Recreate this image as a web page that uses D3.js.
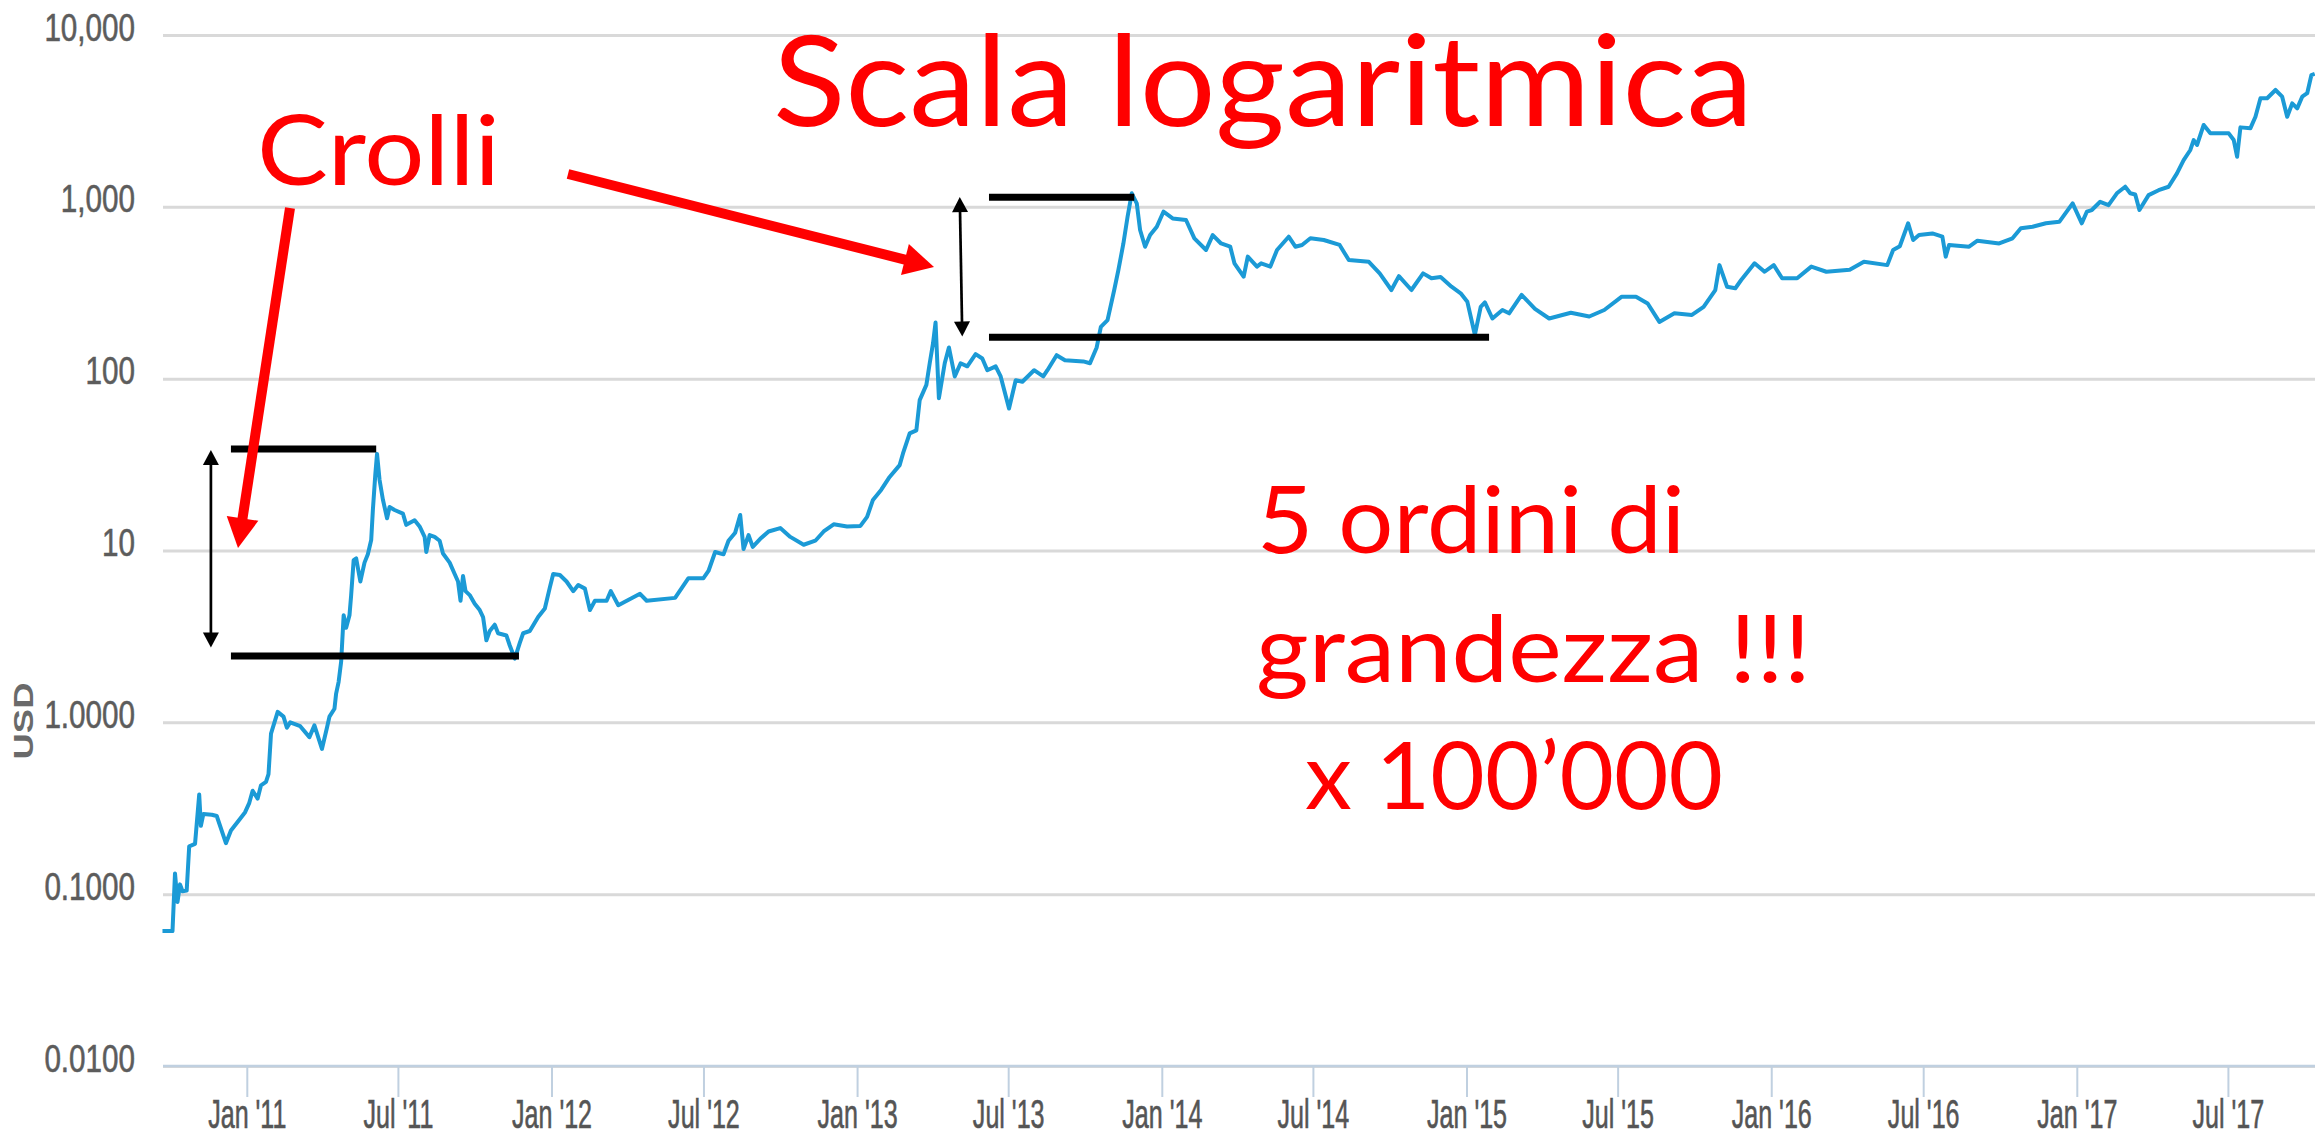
<!DOCTYPE html>
<html><head><meta charset="utf-8">
<script src="https://cdnjs.cloudflare.com/ajax/libs/d3/7.8.5/d3.min.js"></script>
<style>html,body{margin:0;padding:0;background:#fff;overflow:hidden}</style>
</head><body>
<svg id="chart" width="2315" height="1137" xmlns="http://www.w3.org/2000/svg"></svg>
<script>
// ---------- DATA ----------
const prices2010 = [["2010-09-22",0.061],["2010-10-04",0.061],["2010-10-07",0.132],["2010-10-10",0.09],["2010-10-13",0.114],["2010-10-16",0.104],["2010-10-21",0.105],["2010-10-24",0.19],["2010-10-31",0.196],["2010-11-05",0.38],["2010-11-07",0.25],["2010-11-10",0.293],["2010-11-20",0.29],["2010-11-26",0.285],["2010-12-07",0.198],["2010-12-13",0.235],["2010-12-24",0.275],["2010-12-30",0.30]];
const prices2011 = [["2011-01-04",0.34],["2011-01-08",0.40],["2011-01-14",0.36],["2011-01-18",0.43],["2011-01-24",0.45],["2011-01-27",0.50],["2011-01-30",0.86],["2011-02-07",1.15],["2011-02-14",1.08],["2011-02-18",0.93],["2011-02-22",1.0],["2011-03-06",0.95],["2011-03-17",0.82],["2011-03-23",0.96],["2011-04-01",0.70],["2011-04-07",0.93],["2011-04-10",1.08],["2011-04-16",1.2],["2011-04-18",1.47],["2011-04-21",1.72],["2011-04-24",2.25],["2011-04-26",3.4],["2011-04-27",4.2],["2011-04-30",3.55],["2011-05-04",4.2],["2011-05-06",5.5],["2011-05-09",8.8],["2011-05-12",9.0],["2011-05-17",6.6],["2011-05-22",8.5],["2011-05-26",9.5],["2011-05-30",11.5],["2011-06-01",17.2],["2011-06-04",28],["2011-06-06",36.5],["2011-06-09",25.8],["2011-06-13",19.8],["2011-06-18",15.4],["2011-06-21",17.9],["2011-06-27",17.2],["2011-07-07",16.4],["2011-07-11",14.1],["2011-07-21",15.0],["2011-07-27",13.8],["2011-08-02",12.0],["2011-08-04",9.8],["2011-08-08",12.3],["2011-08-14",12.0],["2011-08-20",11.4],["2011-08-24",9.6],["2011-09-01",8.5],["2011-09-07",7.3],["2011-09-11",6.6],["2011-09-14",5.1],["2011-09-17",7.1],["2011-09-20",5.8],["2011-09-25",5.5],["2011-10-01",4.9],["2011-10-07",4.5],["2011-10-11",4.1],["2011-10-15",3.0],["2011-10-19",3.4],["2011-10-25",3.7],["2011-10-29",3.3],["2011-11-08",3.2],["2011-11-12",2.8],["2011-11-18",2.35],["2011-11-24",2.9],["2011-11-28",3.3],["2011-12-06",3.4],["2011-12-16",4.1],["2011-12-24",4.6],["2011-12-30",6.1]];
const prices2012 = [["2012-01-03",7.3],["2012-01-11",7.2],["2012-01-19",6.6],["2012-01-27",5.8],["2012-02-02",6.3],["2012-02-10",6.0],["2012-02-16",4.5],["2012-02-22",5.1],["2012-03-07",5.1],["2012-03-12",5.8],["2012-03-21",4.8],["2012-04-16",5.6],["2012-04-24",5.1],["2012-05-28",5.3],["2012-06-13",6.9],["2012-07-01",6.9],["2012-07-07",7.6],["2012-07-15",9.8],["2012-07-25",9.5],["2012-07-31",11.4],["2012-08-08",12.7],["2012-08-14",16.1],["2012-08-18",10.2],["2012-08-24",12.3],["2012-08-29",10.5],["2012-09-07",11.7],["2012-09-17",12.9],["2012-10-01",13.5],["2012-10-13",12.0],["2012-10-29",10.8],["2012-11-12",11.4],["2012-11-22",12.9],["2012-12-04",14.2],["2012-12-20",13.8]];
const prices2013 = [["2013-01-05",13.9],["2013-01-13",15.7],["2013-01-20",19.7],["2013-01-30",22.6],["2013-02-09",26.8],["2013-02-21",31.4],["2013-02-25",36.7],["2013-03-05",48],["2013-03-13",50],["2013-03-17",75],["2013-03-25",92],["2013-03-29",123],["2013-04-02",161],["2013-04-05",212],["2013-04-09",77],["2013-04-16",123],["2013-04-21",152],["2013-04-28",103],["2013-05-05",123],["2013-05-13",118],["2013-05-23",139],["2013-05-31",131],["2013-06-06",112],["2013-06-16",118],["2013-06-22",103],["2013-07-02",67],["2013-07-10",98],["2013-07-18",96],["2013-08-01",112],["2013-08-12",103],["2013-08-17",112],["2013-08-28",137],["2013-09-07",128],["2013-09-29",126],["2013-10-07",123],["2013-10-15",152],["2013-10-20",200],["2013-10-28",219],["2013-11-05",328],["2013-11-10",429],["2013-11-16",612],["2013-11-21",875],["2013-11-26",1199],["2013-12-02",1048],["2013-12-06",733],["2013-12-12",586],["2013-12-18",685],["2013-12-26",766]];
const prices2014 = [["2014-01-03",937],["2014-01-14",856],["2014-01-30",838],["2014-02-09",656],["2014-02-23",561],["2014-03-03",685],["2014-03-13",612],["2014-03-24",586],["2014-03-29",469],["2014-04-09",392],["2014-04-14",513],["2014-04-25",449],["2014-04-30",469],["2014-05-11",449],["2014-05-19",561],["2014-06-02",670],["2014-06-10",586],["2014-06-18",600],["2014-06-28",656],["2014-07-14",641],["2014-08-02",600],["2014-08-13",490],["2014-09-06",479],["2014-09-19",410],["2014-10-03",328],["2014-10-12",395],["2014-10-27",328],["2014-11-10",410],["2014-11-20",384],["2014-12-01",390],["2014-12-14",343],["2014-12-25",314]];
const prices2015 = [["2015-01-02",280],["2015-01-11",180],["2015-01-18",262],["2015-01-23",278],["2015-02-01",224],["2015-02-13",251],["2015-02-21",240],["2015-03-08",307],["2015-03-12",293],["2015-03-24",255],["2015-04-10",224],["2015-05-06",242],["2015-05-28",230],["2015-06-15",251],["2015-07-06",300],["2015-07-23",300],["2015-08-06",274],["2015-08-20",214],["2015-09-07",240],["2015-09-28",235],["2015-10-12",262],["2015-10-26",328],["2015-10-31",458],["2015-11-09",343],["2015-11-19",336],["2015-11-26",375],["2015-12-12",469],["2015-12-24",419]];
const prices2016 = [["2016-01-04",458],["2016-01-14",384],["2016-02-01",384],["2016-02-18",449],["2016-03-07",419],["2016-04-04",430],["2016-04-21",479],["2016-05-19",458],["2016-05-26",561],["2016-06-03",590],["2016-06-13",802],["2016-06-19",641],["2016-06-26",685],["2016-07-12",700],["2016-07-24",670],["2016-07-28",513],["2016-08-01",600],["2016-08-25",586],["2016-09-04",635],["2016-09-30",612],["2016-10-16",656],["2016-10-26",750],["2016-11-09",766],["2016-11-25",802],["2016-12-11",818],["2016-12-27",1048]];
const prices2017 = [["2017-01-07",802],["2017-01-13",937],["2017-01-19",958],["2017-01-29",1070],["2017-02-08",1023],["2017-02-18",1199],["2017-02-28",1309],["2017-03-06",1199],["2017-03-12",1180],["2017-03-17",958],["2017-03-28",1170],["2017-04-09",1250],["2017-04-21",1309],["2017-05-01",1566],["2017-05-09",1872],["2017-05-17",2142],["2017-05-21",2448],["2017-05-25",2290],["2017-06-02",2995],["2017-06-10",2677],["2017-06-22",2677],["2017-07-02",2677],["2017-07-08",2448],["2017-07-12",1958],["2017-07-16",2900],["2017-07-28",2870],["2017-08-03",3345],["2017-08-09",4283],["2017-08-17",4283],["2017-08-27",4786],["2017-09-04",4375],["2017-09-10",3345],["2017-09-16",3997],["2017-09-22",3740],["2017-09-28",4375],["2017-10-04",4584],["2017-10-09",5850],["2017-10-13",5950]];

const yTickValues = [0.01, 0.1, 1, 10, 100, 1000, 10000];
const yTickLabels = ["0.0100", "0.1000", "1.0000", "10", "100", "1,000", "10,000"];
const xTickDates  = ["2011-01-01","2011-07-01","2012-01-01","2012-07-01","2013-01-01","2013-07-01","2014-01-01","2014-07-01","2015-01-01","2015-07-01","2016-01-01","2016-07-01","2017-01-01","2017-07-01"];
const xTickLabels = ["Jan '11","Jul '11","Jan '12","Jul '12","Jan '13","Jul '13","Jan '14","Jul '14","Jan '15","Jul '15","Jan '16","Jul '16","Jan '17","Jul '17"];
const yAxisTitle = "USD";

// crash brackets (data levels)
const crashPeaks    = [39, 1136];
const crashTroughs  = [2.43, 174];
const bracketStart  = ["2010-12-13", "2013-06-08"];
const peakLineEnd   = ["2011-06-05", "2013-11-29"];
const troughLineEnd = ["2011-11-23", "2015-01-28"];
const arrowTopDate  = ["2010-11-19", "2013-05-04"];
const arrowBotDate  = ["2010-11-19", "2013-05-07"];
const arrowTopVal   = [38.5, 1140];
const arrowBotVal   = [2.73, 176];

const titleText = "Scala logaritmica";
const crashText = "Crolli";
const noteLines = ["5 ordini di", "grandezza !!!", "x 100’000"];

// ---------- LAYOUT ----------
const plotLeft = 163, plotRight = 2315;
const parse = d3.utcParse("%Y-%m-%d");
const svg = d3.select("#chart");

const x = d3.scaleUtc()
  .domain([parse("2011-01-01"), parse("2017-01-01")])
  .range([246.8, 2076.8]);
const y = d3.scaleLog().domain([0.01, 10000]).range([1066, 35]);

const series = [].concat(prices2010, prices2011, prices2012, prices2013,
  prices2014, prices2015, prices2016, prices2017)
  .map(([d, v]) => ({ date: parse(d), value: v }));

const labelFont = "Liberation Sans, Arial, sans-serif";

// y axis with gridlines
const yAxis = d3.axisLeft(y)
  .tickValues(yTickValues)
  .tickFormat((d, i) => yTickLabels[i])
  .tickSizeInner(-(plotRight - plotLeft))
  .tickSizeOuter(0)
  .tickPadding(29);
const gy = svg.append("g").attr("transform", `translate(${plotLeft},0)`).call(yAxis);
gy.select(".domain").remove();
gy.selectAll(".tick line").attr("stroke", "#d9d9d9").attr("stroke-width", 3);
gy.selectAll(".tick text")
  .attr("x", 0).attr("dy", 0)
  .attr("transform", "translate(-28,5) scale(0.78,1)")
  .attr("font-family", labelFont)
  .attr("font-size", 38)
  .attr("fill", "#5c5c5c")
  .attr("stroke", "#5c5c5c").attr("stroke-width", 0.6)
  .attr("text-anchor", "end");

// x axis
const xAxis = d3.axisBottom(x)
  .tickValues(xTickDates.map(parse))
  .tickFormat((d, i) => xTickLabels[i])
  .tickSizeInner(31)
  .tickSizeOuter(0);
const gx = svg.append("g").attr("transform", `translate(0,${y(0.01)})`).call(xAxis);
gx.select(".domain").remove();
gx.selectAll(".tick line").attr("stroke", "#c0d0e0").attr("stroke-width", 2);
gx.selectAll(".tick text")
  .attr("y", 0).attr("dy", 0)
  .attr("transform", "translate(0,62) scale(0.66,1.05)")
  .attr("font-family", labelFont)
  .attr("font-size", 38)
  .attr("fill", "#555")
  .attr("stroke", "#555").attr("stroke-width", 0.6)
  .attr("text-anchor", "middle");
svg.append("line")
  .attr("x1", plotLeft).attr("x2", plotRight)
  .attr("y1", y(0.01)).attr("y2", y(0.01))
  .attr("stroke", "#c0d0e0").attr("stroke-width", 2.5);

// y axis title
svg.append("text")
  .attr("transform", `translate(33,721) rotate(-90) scale(1.3,1)`)
  .attr("text-anchor", "middle")
  .attr("font-family", labelFont)
  .attr("font-weight", "bold")
  .attr("font-size", 28)
  .attr("fill", "#6a6a6a")
  .text(yAxisTitle);

// price line
const line = d3.line().x(d => x(d.date)).y(d => y(d.value));
svg.append("path")
  .datum(series)
  .attr("d", line)
  .attr("fill", "none")
  .attr("stroke", "#1b9ad6")
  .attr("stroke-width", 4)
  .attr("stroke-linejoin", "round");

// ---------- ANNOTATIONS ----------
function arrowHead(g, tip, from, len, halfW, color) {
  const dx = tip[0] - from[0], dy = tip[1] - from[1];
  const L = Math.hypot(dx, dy), ux = dx / L, uy = dy / L;
  const bx = tip[0] - ux * len, by = tip[1] - uy * len;
  g.append("polygon")
    .attr("points", [[tip[0], tip[1]], [bx - uy * halfW, by + ux * halfW], [bx + uy * halfW, by - ux * halfW]].map(p => p.join(",")).join(" "))
    .attr("fill", color);
  return [bx + ux * 2, by + uy * 2];
}

const ann = svg.append("g");
crashPeaks.forEach((pk, i) => {
  ann.append("line")
    .attr("x1", x(parse(bracketStart[i]))).attr("x2", x(parse(peakLineEnd[i])))
    .attr("y1", y(pk)).attr("y2", y(pk))
    .attr("stroke", "#000").attr("stroke-width", 7);
  ann.append("line")
    .attr("x1", x(parse(bracketStart[i]))).attr("x2", x(parse(troughLineEnd[i])))
    .attr("y1", y(crashTroughs[i])).attr("y2", y(crashTroughs[i]))
    .attr("stroke", "#000").attr("stroke-width", 7);
  const t = [x(parse(arrowTopDate[i])), y(arrowTopVal[i])];
  const b = [x(parse(arrowBotDate[i])), y(arrowBotVal[i])];
  const s1 = arrowHead(ann, t, b, 15, 8, "#000");
  const s2 = arrowHead(ann, b, t, 15, 8, "#000");
  ann.append("line")
    .attr("x1", s1[0]).attr("y1", s1[1]).attr("x2", s2[0]).attr("y2", s2[1])
    .attr("stroke", "#000").attr("stroke-width", 2.7);
});

const redArrows = [[[290, 208], [238, 548]], [[568, 174], [934, 267]]];
redArrows.forEach(([s, t]) => {
  const base = arrowHead(ann, t, s, 30, 16, "#ff0000");
  ann.append("line")
    .attr("x1", s[0]).attr("y1", s[1]).attr("x2", base[0]).attr("y2", base[1])
    .attr("stroke", "#ff0000").attr("stroke-width", 10);
});

const redFont = "Lato, 'Open Sans', sans-serif";
function redText(str, x0, yb, size, len) {
  ann.append("text")
    .attr("x", x0).attr("y", yb)
    .attr("font-family", redFont)
    .attr("font-size", size)
    .attr("fill", "#ff0000")
    .attr("textLength", len)
    .attr("lengthAdjust", "spacingAndGlyphs")
    .text(str);
}
redText(titleText, 773, 126, 126, 980);
redText(crashText, 257, 185, 96, 243);
redText(noteLines[0], 1257, 553, 94, 428);
redText(noteLines[1], 1256, 682, 94, 555);
redText(noteLines[2], 1305, 809, 94, 418);
</script>
</body></html>
